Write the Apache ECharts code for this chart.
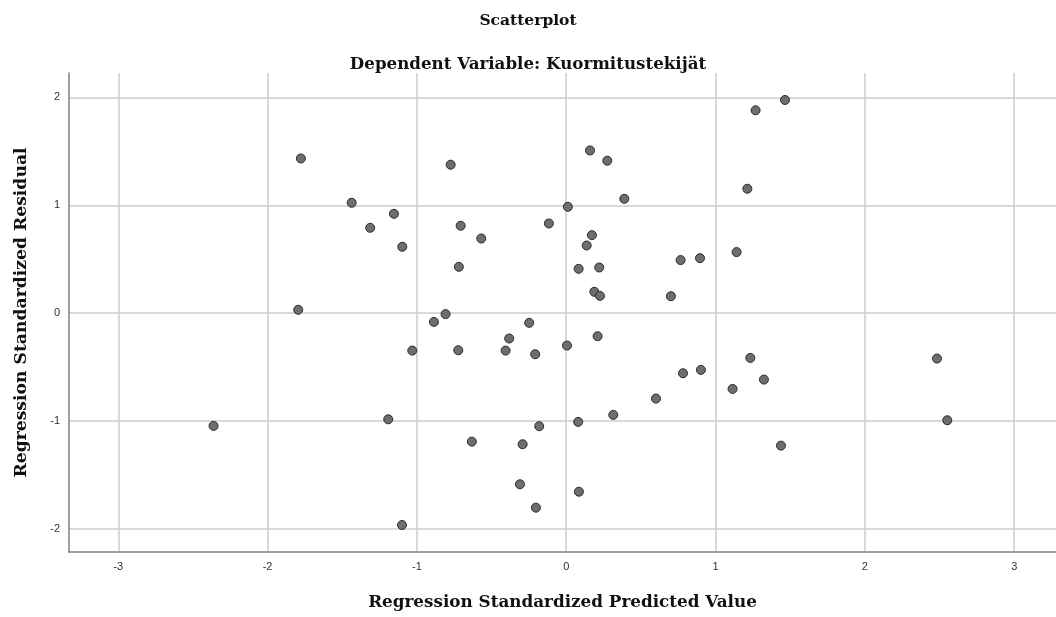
<!DOCTYPE html>
<html>
<head>
<meta charset="utf-8">
<script src="https://cdn.jsdelivr.net/npm/echarts@6/dist/echarts.min.js"></script>
<style>
html,body{margin:0;padding:0;background:#fff;}
#chart{width:1056px;height:617px;}
</style>
</head>
<body>
<div id="chart"></div>
<script>
const titleText = "Scatterplot";
const subtitleText = "Dependent Variable: Kuormitustekijät";
const xAxisName = "Regression Standardized Predicted Value";
const yAxisName = "Regression Standardized Residual";

const predicted = [
  -2.362, -1.777, -1.795, -1.437, -1.313, -1.154, -1.098, -1.192, -1.100, -1.031,
  -0.886, -0.808, -0.774, -0.707, -0.719, -0.723, -0.569, -0.632, -0.406, -0.382,
  -0.310, -0.292, -0.248, -0.208, -0.203, -0.181, -0.116, 0.005, 0.011, 0.080,
  0.085, 0.083, 0.137, 0.159, 0.172, 0.188, 0.210, 0.221, 0.226, 0.275,
  0.315, 0.389, 0.601, 0.701, 0.766, 0.782, 0.896, 0.902, 1.114, 1.141,
  1.213, 1.233, 1.268, 1.324, 1.438, 1.465, 2.483, 2.552
];
const residual = [
  -1.045, 1.434, 0.031, 1.023, 0.791, 0.921, 0.615, -0.984, -1.964, -0.347,
  -0.081, -0.009, 1.376, 0.810, 0.429, -0.344, 0.692, -1.191, -0.347, -0.235,
  -1.586, -1.215, -0.090, -0.381, -1.803, -1.048, 0.831, -0.300, 0.986, -1.008,
  -1.655, 0.411, 0.627, 1.508, 0.723, 0.198, -0.214, 0.423, 0.160, 1.413,
  -0.943, 1.060, -0.792, 0.157, 0.492, -0.557, 0.510, -0.526, -0.702, 0.566,
  1.153, -0.415, 1.880, -0.616, -1.228, 1.976, -0.421, -0.993
];

const points = predicted.map((x, i) => [x, residual[i]]);

const chart = echarts.init(document.getElementById('chart'), null, {renderer: 'canvas'});
const serif = '"DejaVu Serif", serif';
chart.setOption({
  animation: false,
  backgroundColor: '#ffffff',
  title: [
    {text: titleText, left: 'center', top: 8,
     textStyle: {fontFamily: serif, fontWeight: 'bold', fontSize: 15.5, color: '#111'}},
    {text: subtitleText, left: 'center', top: 51,
     textStyle: {fontFamily: serif, fontWeight: 'bold', fontSize: 16.7, color: '#111'}}
  ],
  grid: {left: 69, right: 0, top: 73, bottom: 65, containLabel: false},
  xAxis: {
    type: 'value', min: -3.33, max: 3.28,
    name: xAxisName, nameLocation: 'middle', nameGap: 42,
    nameTextStyle: {fontFamily: serif, fontWeight: 'bold', fontSize: 16.8, color: '#111'},
    axisLine: {show: true, onZero: false, lineStyle: {color: '#808080', width: 1.5}},
    axisTick: {show: false},
    axisLabel: {showMinLabel: false, showMaxLabel: false, margin: 9,
      fontFamily: '"Liberation Sans", Arial, sans-serif', fontSize: 11, color: '#333'},
    splitLine: {show: true, showMinLine: false, showMaxLine: false, lineStyle: {color: '#cccccc', width: 1.5}}
  },
  yAxis: {
    type: 'value', min: -2.214, max: 2.226,
    name: yAxisName, nameLocation: 'middle', nameGap: 39, nameRotate: 90,
    nameTextStyle: {fontFamily: serif, fontWeight: 'bold', fontSize: 17.2, color: '#111'},
    axisLine: {show: true, onZero: false, lineStyle: {color: '#808080', width: 1.5}},
    axisTick: {show: false},
    axisLabel: {showMinLabel: false, showMaxLabel: false, margin: 9,
      fontFamily: '"Liberation Sans", Arial, sans-serif', fontSize: 11, color: '#333'},
    splitLine: {show: true, showMinLine: false, showMaxLine: false, lineStyle: {color: '#cccccc', width: 1.5}}
  },
  series: [{
    type: 'scatter',
    data: points,
    symbol: 'circle',
    symbolSize: 9,
    itemStyle: {color: '#6e6e6e', borderColor: '#2b2b2b', borderWidth: 1, opacity: 1}
  }]
});
</script>
</body>
</html>
